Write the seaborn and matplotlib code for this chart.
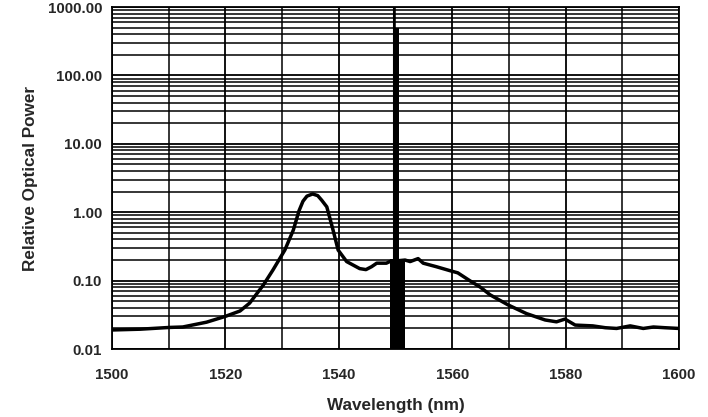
import numpy as np
import pandas as pd
import matplotlib
matplotlib.use("Agg")
import matplotlib.pyplot as plt
from matplotlib.ticker import FixedLocator, LogLocator, FuncFormatter, NullFormatter
import seaborn as sns

# Broad ASE spectrum (nm, relative optical power)
wavelength = [1500.0, 1505.0, 1510.2, 1512.5, 1516.7, 1520.0, 1522.6, 1524.3, 1526.7,
              1528.4, 1530.5, 1532.0, 1533.0, 1533.7, 1534.4, 1535.4, 1536.3, 1537.0,
              1537.9, 1539.0, 1539.9, 1541.4, 1543.7, 1544.8, 1545.8, 1546.7, 1548.4,
              1549.0, 1551.7, 1552.6, 1554.0, 1554.9, 1557.2, 1559.6, 1561.0, 1563.1,
              1565.0, 1566.7, 1569.9, 1573.1, 1576.4, 1578.4, 1579.9, 1581.7, 1584.8,
              1587.0, 1589.0, 1591.4, 1593.7, 1595.5, 1597.5, 1600.0]
power = [0.019, 0.0195, 0.0207, 0.021, 0.0247, 0.030, 0.036, 0.047, 0.086,
         0.143, 0.28, 0.55, 1.05, 1.45, 1.72, 1.85, 1.75, 1.5,
         1.2, 0.55, 0.28, 0.19, 0.15, 0.145, 0.16, 0.18, 0.18,
         0.19, 0.20, 0.19, 0.21, 0.18, 0.16, 0.14, 0.13, 0.10,
         0.08, 0.062, 0.044, 0.033, 0.0266, 0.025, 0.0274, 0.0224, 0.0218,
         0.0205, 0.020, 0.0218, 0.020, 0.021, 0.0205, 0.020]

# Signal region (filled block) and laser line
block_x = [1549.0, 1551.7]
block_top = [0.21, 0.21]
spike_x = [1549.6, 1550.7]
spike_top = [490.0, 490.0]
line_x = 1549.8
line_top = 1000.0

x_ticks = [1500, 1520, 1540, 1560, 1580, 1600]
y_ticks = [0.01, 0.1, 1, 10, 100, 1000]

sns.set_style("white")
plt.rcParams["font.family"] = ["Liberation Sans", "DejaVu Sans"]
plt.rcParams["font.weight"] = "bold"

fig = plt.figure(figsize=(7.08, 4.17), dpi=100)
ax = fig.add_axes([0.158, 0.163, 0.801, 0.820])

df = pd.DataFrame({"Wavelength": wavelength, "Power": power})
sns.lineplot(data=df, x="Wavelength", y="Power", ax=ax, color="black", linewidth=2.5, zorder=5)

ax.fill_between(block_x, 0.01, block_top, color="black", linewidth=0, zorder=6)
ax.fill_between(spike_x, 0.01, spike_top, color="black", linewidth=0, zorder=6)
ax.vlines(line_x, 0.01, line_top, color="black", linewidth=1.5, zorder=6)

ax.set_yscale("log")
ax.set_xlim(1500, 1600)
ax.set_ylim(0.01, 1000)

ax.xaxis.set_major_locator(FixedLocator(x_ticks))
ax.xaxis.set_minor_locator(FixedLocator(np.arange(1500, 1601, 10)))
ax.yaxis.set_major_locator(FixedLocator(y_ticks))
ax.yaxis.set_minor_locator(LogLocator(base=10, subs=np.arange(2, 10)))
ax.yaxis.set_major_formatter(FuncFormatter(lambda v, p: f"{v:.2f}"))
ax.yaxis.set_minor_formatter(NullFormatter())

ax.grid(True, which="major", axis="both", color="black", linewidth=1.3)
ax.grid(True, which="minor", axis="both", color="black", linewidth=1.1)
ax.set_axisbelow(True)

for s in ax.spines.values():
    s.set_color("black")
    s.set_linewidth(1.3)

ax.tick_params(axis="both", which="major", length=4, width=1, color="black",
               labelsize=10.8, pad=10)
ax.tick_params(axis="y", which="major", pad=3)
ax.tick_params(axis="both", which="minor", length=0)
for lab in ax.get_xticklabels() + ax.get_yticklabels():
    lab.set_fontweight("bold")

ax.set_xlabel("Wavelength (nm)", fontsize=12.3, fontweight="bold", labelpad=11)
ax.set_ylabel("Relative Optical Power", fontsize=12.3, fontweight="bold", labelpad=7)

fig.savefig("out.png", dpi=100)
